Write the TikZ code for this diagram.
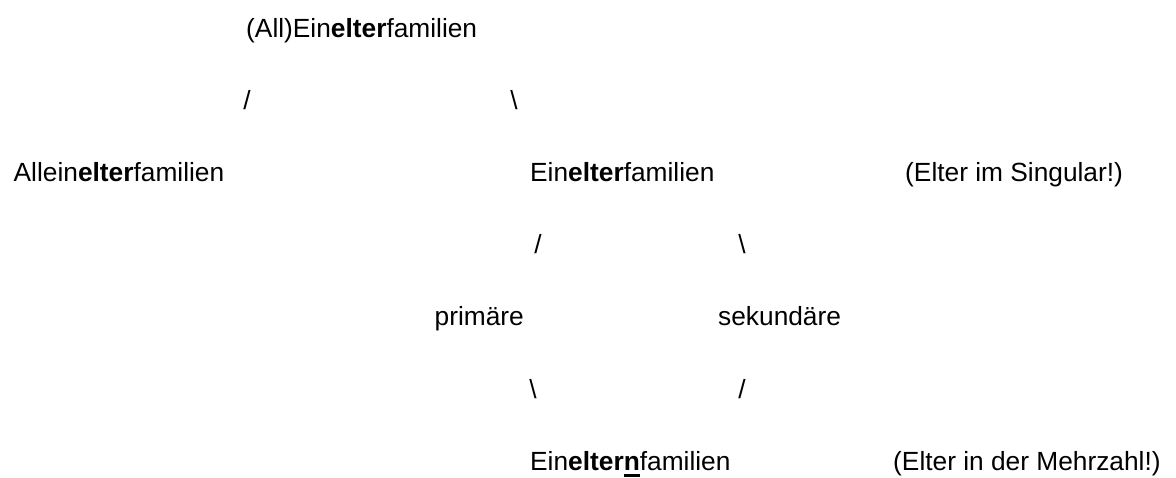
\documentclass[tikz,border=0pt]{standalone}
\usepackage{fontspec}
\setmainfont{Liberation Sans}
\newcommand{\ulbold}[1]{\setbox0\hbox{\textbf{#1}}\rlap{\rule[-6.5pt]{\wd0}{2.4pt}}\box0}
\begin{document}
\begin{tikzpicture}[x=1pt,y=1pt,
  txt/.style={anchor=base west, inner sep=0pt, font=\fontsize{26.3}{30}\selectfont},
  slash/.style={anchor=base, inner sep=0pt, font=\fontsize{26.3}{30}\selectfont}]
\useasboundingbox (0,0) rectangle (1176,477);
% row 1
\node[txt] (top) at (246,439.5) {(All)Ein\textbf{elter}familien};
% row 2
\node[slash] (s1) at (247,367.4) {/};
\node[slash] (s2) at (514,367.4) {\textbackslash};
% row 3
\node[txt] (allein) at (13.5,295.3) {Allein\textbf{elter}familien};
\node[txt] (einelter) at (530,295.3) {Ein\textbf{elter}familien};
\node[txt] (sing) at (905,295.3) {(Elter im Singular!)};
% row 4
\node[slash] (s3) at (538,223.4) {/};
\node[slash] (s4) at (742,223.4) {\textbackslash};
% row 5
\node[txt] (prim) at (434.5,151.2) {primäre};
\node[txt] (sek) at (718,151.2) {sekundäre};
% row 6
\node[slash] (s5) at (533,78) {\textbackslash};
\node[slash] (s6) at (742,78) {/};
% row 7
\node[txt] (eineltern) at (530,7) {Ein\textbf{elter}\ulbold{n}familien};
\node[txt] (mehr) at (893,7) {(Elter in der Mehrzahl!)};
\end{tikzpicture}
\end{document}
